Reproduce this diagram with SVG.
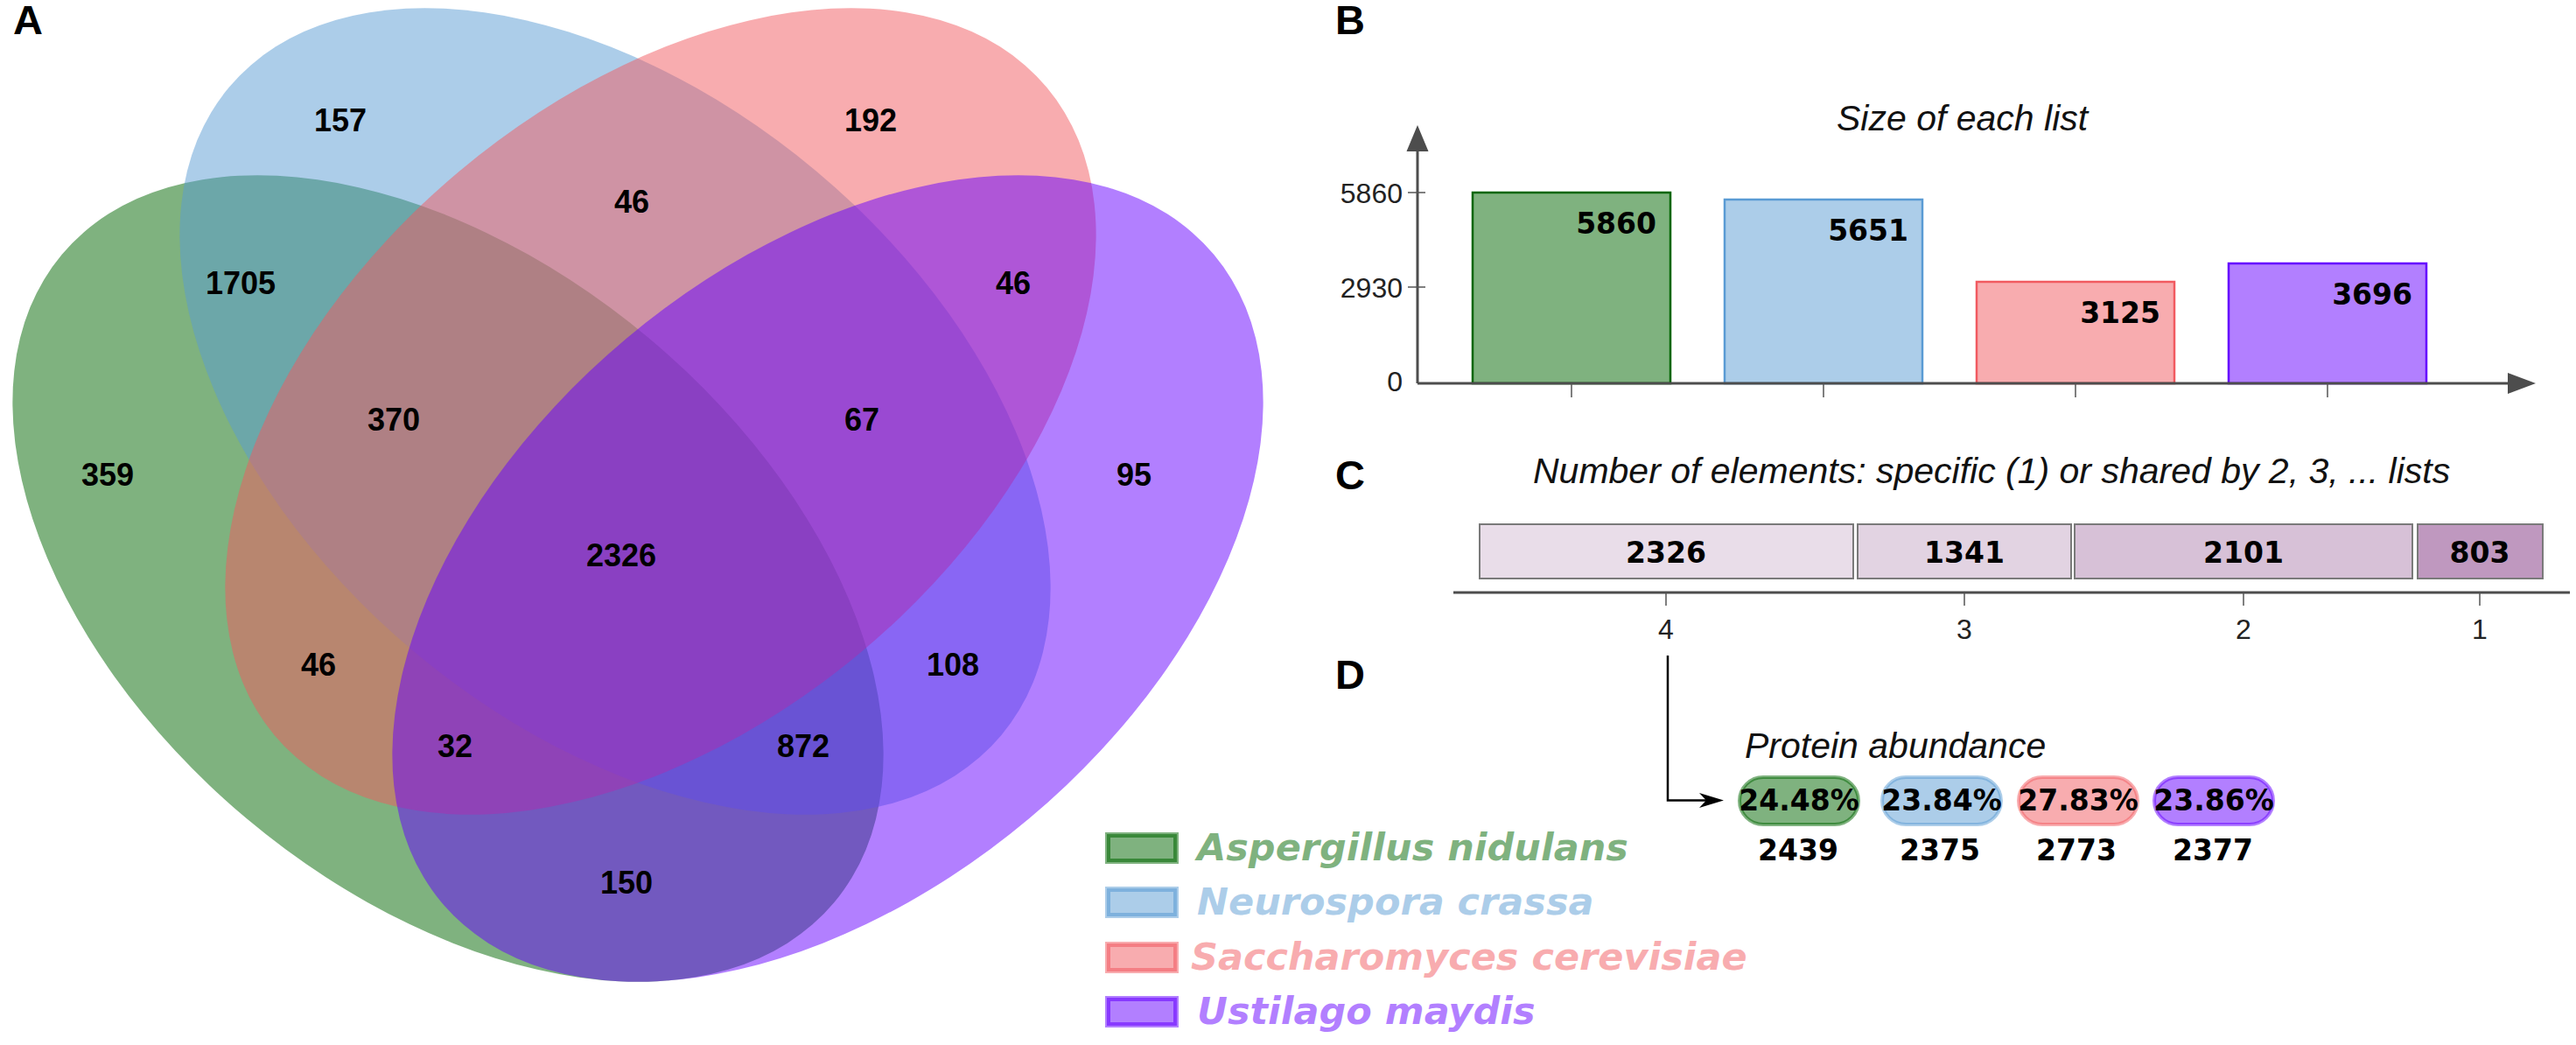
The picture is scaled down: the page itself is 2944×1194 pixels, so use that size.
<svg xmlns="http://www.w3.org/2000/svg" width="2944" height="1194" viewBox="0 0 2944 1194">
<defs>
<style>
.panel{font-family:"Liberation Sans",Arial,sans-serif;font-weight:bold;font-size:47px;fill:#000}
.vn{font-family:"Liberation Sans",Arial,sans-serif;font-weight:bold;font-size:36px;fill:#000;text-anchor:middle}
.dj{font-family:"DejaVu Sans",sans-serif;font-weight:bold;font-size:33px;fill:#000}
.title{font-family:"Liberation Sans",Arial,sans-serif;font-style:italic;font-size:41px;fill:#111}
.tick{font-family:"Liberation Sans",Arial,sans-serif;font-size:32px;fill:#222}
.leg{font-family:"DejaVu Sans",sans-serif;font-weight:bold;font-style:italic;font-size:43px;fill-opacity:0.5}
.axis{stroke:#4d4d4d;stroke-width:3;fill:none}
.tk{stroke:#555;stroke-width:1.5}
.cbar{stroke:#7a7a7a;stroke-width:2}
.g{fill:rgb(0,102,0)} .b{fill:rgb(90,155,212)} .p{fill:rgb(241,90,96)} .u{fill:rgb(102,0,255)}
.gs{stroke:rgb(0,102,0)} .bs{stroke:rgb(90,155,212)} .ps{stroke:rgb(241,90,96)} .us{stroke:rgb(102,0,255)}
</style>
</defs>
<rect x="0" y="0" width="2944" height="1194" fill="#ffffff"/>

<!-- Panel A: Venn -->
<g id="venn">
<ellipse id="set-aspergillus" class="g" fill-opacity="0.5" cx="512" cy="661" rx="576" ry="358" transform="rotate(40 512 661)"/>
<ellipse id="set-neurospora" class="b" fill-opacity="0.5" cx="703" cy="470" rx="576" ry="358" transform="rotate(40 703 470)"/>
<ellipse id="set-saccharomyces" class="p" fill-opacity="0.5" cx="755" cy="470" rx="576" ry="358" transform="rotate(-40 755 470)"/>
<ellipse id="set-ustilago" class="u" fill-opacity="0.5" cx="946" cy="661" rx="576" ry="358" transform="rotate(-40 946 661)"/>
</g>
<g id="venn-counts">
<text class="vn" x="389" y="150">157</text>
<text class="vn" x="995" y="150">192</text>
<text class="vn" x="722" y="243">46</text>
<text class="vn" x="275" y="336">1705</text>
<text class="vn" x="1158" y="336">46</text>
<text class="vn" x="450" y="492">370</text>
<text class="vn" x="985" y="492">67</text>
<text class="vn" x="123" y="555">359</text>
<text class="vn" x="1296" y="555">95</text>
<text class="vn" x="710" y="647">2326</text>
<text class="vn" x="364" y="772">46</text>
<text class="vn" x="1089" y="772">108</text>
<text class="vn" x="520" y="865">32</text>
<text class="vn" x="918" y="865">872</text>
<text class="vn" x="716" y="1021">150</text>
</g>
<text class="panel" x="15" y="39">A</text>

<!-- Legend -->
<g id="legend">
<g id="legend-aspergillus">
<rect x="1263" y="951" width="84" height="36" class="g" fill-opacity="0.5"/>
<rect x="1267" y="955" width="76" height="28" fill="none" class="gs" stroke-opacity="0.55" stroke-width="4"/>
<text class="leg g" x="1368" y="983">Aspergillus nidulans</text>
</g>
<g id="legend-neurospora">
<rect x="1263" y="1013" width="84" height="36" class="b" fill-opacity="0.5"/>
<rect x="1267" y="1017" width="76" height="28" fill="none" class="bs" stroke-opacity="0.55" stroke-width="4"/>
<text class="leg b" x="1368" y="1045">Neurospora crassa</text>
</g>
<g id="legend-saccharomyces">
<rect x="1263" y="1076" width="84" height="36" class="p" fill-opacity="0.5"/>
<rect x="1267" y="1080" width="76" height="28" fill="none" class="ps" stroke-opacity="0.55" stroke-width="4"/>
<text class="leg p" x="1361" y="1108">Saccharomyces cerevisiae</text>
</g>
<g id="legend-ustilago">
<rect x="1263" y="1138" width="84" height="36" class="u" fill-opacity="0.5"/>
<rect x="1267" y="1142" width="76" height="28" fill="none" class="us" stroke-opacity="0.55" stroke-width="4"/>
<text class="leg u" x="1368" y="1170">Ustilago maydis</text>
</g>
</g>

<!-- Panel B -->
<text class="panel" x="1526" y="39">B</text>
<text class="title" x="2099" y="149">Size of each list</text>
<g id="bar-chart">
<g id="bar-aspergillus">
<rect x="1683" y="220" width="226" height="218" class="g gs" fill-opacity="0.5" stroke-width="2.5"/>
<text class="dj" x="1893" y="267" text-anchor="end">5860</text>
</g>
<g id="bar-neurospora">
<rect x="1971" y="228" width="226" height="210" class="b bs" fill-opacity="0.5" stroke-width="2.5"/>
<text class="dj" x="2181" y="275" text-anchor="end">5651</text>
</g>
<g id="bar-saccharomyces">
<rect x="2259" y="322" width="226" height="116" class="p ps" fill-opacity="0.5" stroke-width="2.5"/>
<text class="dj" x="2469" y="369" text-anchor="end">3125</text>
</g>
<g id="bar-ustilago">
<rect x="2547" y="301" width="226" height="137" class="u us" fill-opacity="0.5" stroke-width="2.5"/>
<text class="dj" x="2757" y="348" text-anchor="end">3696</text>
</g>
</g>
<g id="bar-axes">
<line class="axis" x1="1620" y1="170" x2="1620" y2="438"/>
<polygon points="1620,143 1607.5,173 1632.5,173" fill="#4d4d4d"/>
<line class="axis" x1="1620" y1="438" x2="2868" y2="438"/>
<polygon points="2898,438 2866,426 2866,450" fill="#4d4d4d"/>
<line class="tk" x1="1609" y1="220" x2="1629" y2="220"/>
<line class="tk" x1="1609" y1="328" x2="1629" y2="328"/>
<line class="tk" x1="1796" y1="438" x2="1796" y2="454"/>
<line class="tk" x1="2084" y1="438" x2="2084" y2="454"/>
<line class="tk" x1="2372" y1="438" x2="2372" y2="454"/>
<line class="tk" x1="2660" y1="438" x2="2660" y2="454"/>
<text class="tick" x="1603" y="232" text-anchor="end">5860</text>
<text class="tick" x="1603" y="340" text-anchor="end">2930</text>
<text class="tick" x="1603" y="447" text-anchor="end">0</text>
</g>

<!-- Panel C -->
<text class="panel" x="1526" y="559">C</text>
<text class="title" x="1752" y="552">Number of elements: specific (1) or shared by 2, 3, ... lists</text>
<g id="shared-chart">
<g id="shared-4">
<rect class="cbar" x="1691" y="599" width="427" height="62" fill="#e9dde9"/>
<text class="dj" x="1904" y="643" text-anchor="middle">2326</text>
</g>
<g id="shared-3">
<rect class="cbar" x="2123" y="599" width="244" height="62" fill="#e2d3e2"/>
<text class="dj" x="2245" y="643" text-anchor="middle">1341</text>
</g>
<g id="shared-2">
<rect class="cbar" x="2371" y="599" width="386" height="62" fill="#d7c1d7"/>
<text class="dj" x="2564" y="643" text-anchor="middle">2101</text>
</g>
<g id="shared-1">
<rect class="cbar" x="2763" y="599" width="143" height="62" fill="#bf98bf"/>
<text class="dj" x="2834" y="643" text-anchor="middle">803</text>
</g>
</g>
<g id="shared-axis">
<line class="axis" x1="1661" y1="677" x2="2937" y2="677"/>
<line class="tk" x1="1904" y1="677" x2="1904" y2="692"/>
<line class="tk" x1="2245" y1="677" x2="2245" y2="692"/>
<line class="tk" x1="2564" y1="677" x2="2564" y2="692"/>
<line class="tk" x1="2834" y1="677" x2="2834" y2="692"/>
<text class="tick" x="1904" y="730" text-anchor="middle" font-size="30">4</text>
<text class="tick" x="2245" y="730" text-anchor="middle" font-size="30">3</text>
<text class="tick" x="2564" y="730" text-anchor="middle" font-size="30">2</text>
<text class="tick" x="2834" y="730" text-anchor="middle" font-size="30">1</text>
</g>

<!-- Panel D -->
<text class="panel" x="1526" y="787">D</text>
<g id="connectors">
<path d="M1906,749 V914.5 H1950" fill="none" stroke="#000" stroke-width="2.5"/>
<polygon points="1970,914.5 1942,906 1950,914.5 1942,923" fill="#000"/>
</g>
<text class="title" x="1994" y="866">Protein abundance</text>
<g id="abundance">
<g id="pill-aspergillus">
<rect x="1988" y="888" width="136" height="54" rx="27" class="g gs" fill-opacity="0.5" stroke-opacity="0.5" stroke-width="4"/>
<text class="dj" x="2056" y="926" text-anchor="middle" font-size="32">24.48%</text>
<text class="dj" x="2055" y="983" text-anchor="middle" font-size="32">2439</text>
</g>
<g id="pill-neurospora">
<rect x="2151" y="888" width="136" height="54" rx="27" class="b bs" fill-opacity="0.5" stroke-opacity="0.5" stroke-width="4"/>
<text class="dj" x="2219" y="926" text-anchor="middle" font-size="32">23.84%</text>
<text class="dj" x="2217" y="983" text-anchor="middle" font-size="32">2375</text>
</g>
<g id="pill-saccharomyces">
<rect x="2307" y="888" width="136" height="54" rx="27" class="p ps" fill-opacity="0.5" stroke-opacity="0.5" stroke-width="4"/>
<text class="dj" x="2375" y="926" text-anchor="middle" font-size="32">27.83%</text>
<text class="dj" x="2373" y="983" text-anchor="middle" font-size="32">2773</text>
</g>
<g id="pill-ustilago">
<rect x="2462" y="888" width="136" height="54" rx="27" class="u us" fill-opacity="0.5" stroke-opacity="0.5" stroke-width="4"/>
<text class="dj" x="2530" y="926" text-anchor="middle" font-size="32">23.86%</text>
<text class="dj" x="2529" y="983" text-anchor="middle" font-size="32">2377</text>
</g>
</g>
</svg>
